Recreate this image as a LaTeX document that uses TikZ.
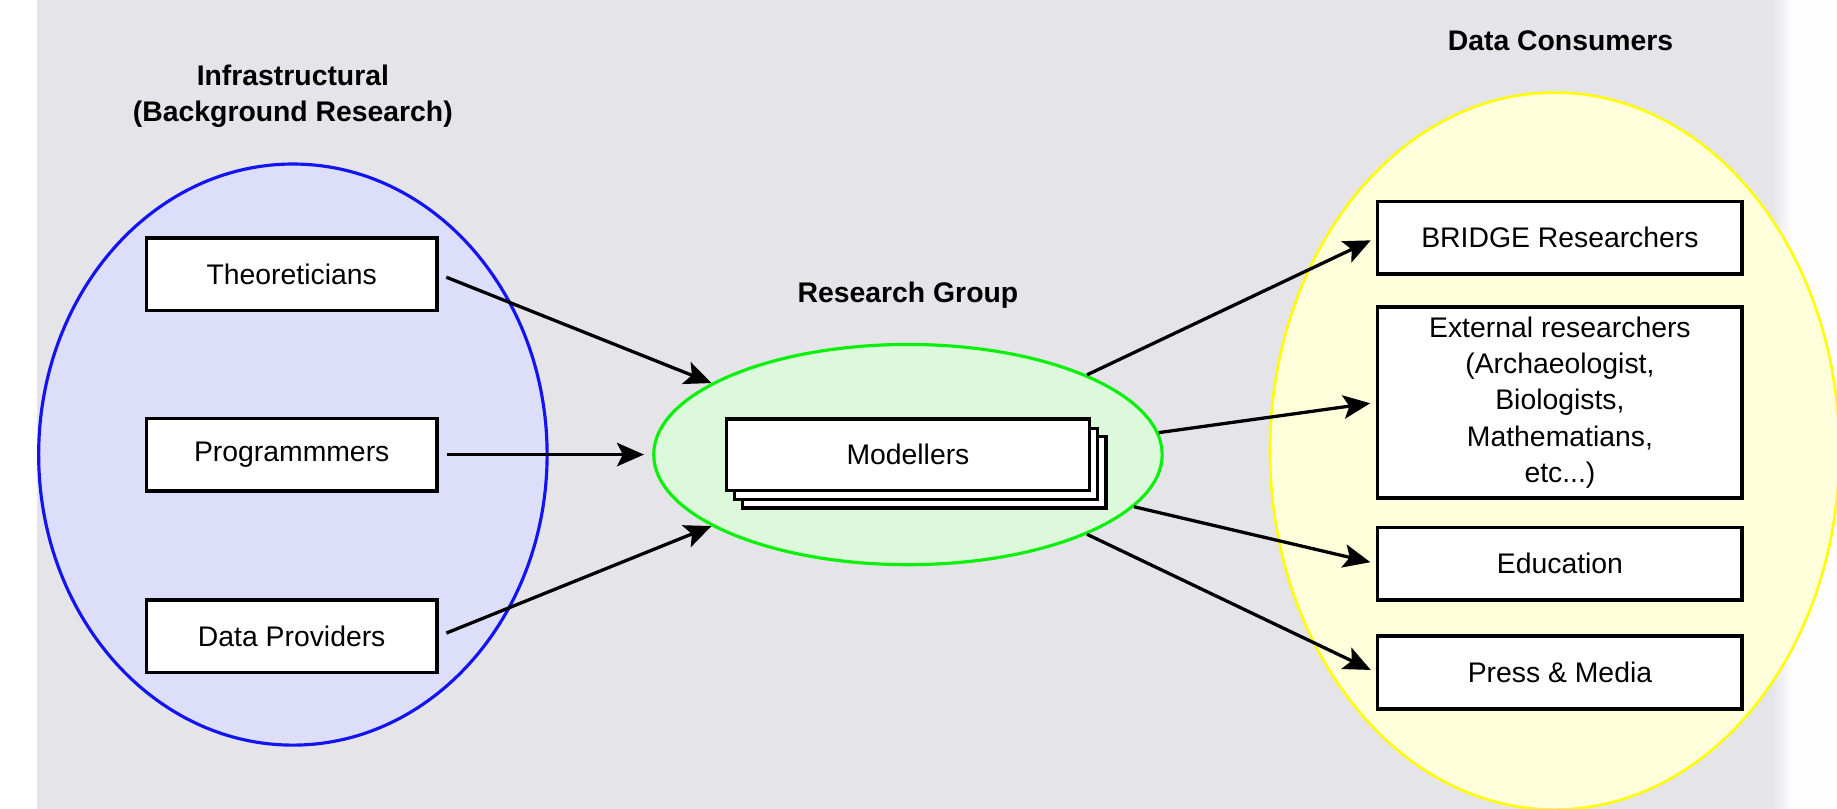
\documentclass[tikz,border=0pt]{standalone}
\usepackage{fontspec}
\setmainfont{Liberation Sans}
\usetikzlibrary{positioning}
\usetikzlibrary{shapes.geometric}
\usetikzlibrary{arrows.meta}

\definecolor{bggray}{RGB}{228,228,233}
\definecolor{infrafill}{RGB}{220,222,250}
\definecolor{infraline}{RGB}{20,20,240}
\definecolor{groupfill}{RGB}{220,249,220}
\definecolor{groupline}{RGB}{10,240,10}
\definecolor{consfill}{RGB}{255,255,220}
\definecolor{consline}{RGB}{255,255,0}

\begin{document}
\begin{tikzpicture}[
    x=0.5pt,
    y=-0.5pt,
    font=\fontsize{12.1}{15.5}\selectfont,
    every node/.style={inner sep=0},
    role/.style={
      rectangle,
      draw,
      fill=white,
      line width=1.45pt,
      minimum width=124pt,
      minimum height=31pt,
      align=center
    },
    blob/.style={ellipse, line width=1.35pt},
    heading/.style={font=\fontsize{12.1}{15.5}\selectfont\bfseries, align=center},
    >={Stealth[length=11.5pt,width=10pt,inset=2.5pt]},
    ]

    \useasboundingbox (0,0) rectangle (1568,690.5);
    \fill[bggray] (32,0) rectangle (1512,690.5);
    \shade[left color=bggray, right color=white!96!bggray] (1512,0) rectangle (1530,690.5);
    \fill[white!96!bggray] (1530,0) rectangle (1568,690.5);

    % the three circles
    \node (infra) [blob, draw=infraline, fill=infrafill, minimum width=217pt, minimum height=248pt] at (250,388) {};
    \node (group) [blob, draw=groupline, fill=groupfill, minimum width=217pt, minimum height=94pt] at (775,388) {};
    \node (cons) [blob, draw=consline, fill=consfill, line width=1.1pt, minimum width=243pt, minimum height=306pt] at (1327,385) {};

    \node (infratitle) [heading] at (250,82) {Infrastructural\\(Background Research)};
    \node (grouptitle) [heading] at (775,252) {Research Group};
    \node (constitle) [heading] at (1332,35) {Data Consumers};

    \foreach \name/\y/\txt in {theo/234/Theoreticians,prog/388/Programmmers,prov/543/Data Providers}{
      \node (\name) [role] at (249,\y) {\txt};
    }

    \node (mod3) [role, minimum width=155pt, minimum height=30.5pt] at (789,403) {};
    \node (mod2) [role, minimum width=155pt, minimum height=30.5pt] at (782,396) {};
    \node (mod) [role, minimum width=155pt, minimum height=30.5pt] at (775,388) {Modellers};

    \foreach \name/\y/\h/\txt in {bridge/203/31/BRIDGE Researchers,ext/343.5/81.5/{External researchers\\(Archaeologist,\\Biologists,\\Mathematians,\\etc...)},edu/481/31/Education,press/574/31/Press \& Media}{
      \node (\name) [role, minimum width=155.5pt, minimum height=\h pt] at (1331.5,\y) {\txt};
    }

    \path[->, line width=1.4pt, shorten <=3.5pt]
    (theo.east) edge (group.160)
    (prog.east) edge[shorten >=3.5pt] (group.west)
    (prov.east) edge (group.200)
    ;

    \path[->, line width=1.4pt, shorten >=2.5pt]
    (group.24) edge (bridge.west)
    (group.5) edge (ext.west)
    (group.-13) edge (edu.west)
    (group.-24) edge (press.west)
    ;
  \end{tikzpicture}
\end{document}
